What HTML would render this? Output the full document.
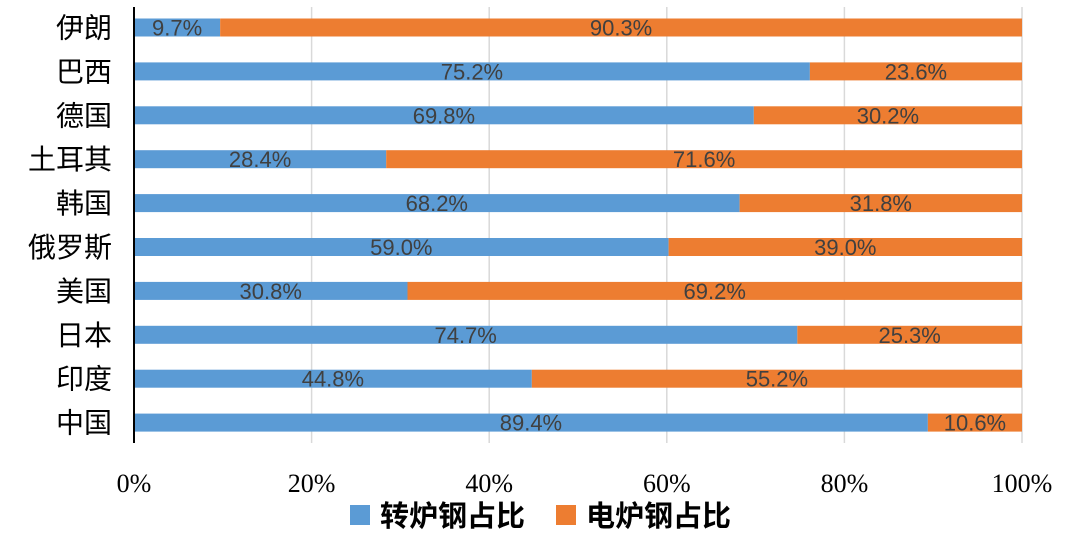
<!DOCTYPE html>
<html><head><meta charset="utf-8"><style>
html,body{margin:0;padding:0;background:#fff;}
svg{display:block;}
</style></head><body>
<svg id="chart" width="1080" height="543" xmlns="http://www.w3.org/2000/svg"></svg>
<script>
const categories = ["伊朗","巴西","德国","土耳其","韩国","俄罗斯","美国","日本","印度","中国"];
const bofValues = [9.7,75.2,69.8,28.4,68.2,59.0,30.8,74.7,44.8,89.4];
const eafValues = [90.3,23.6,30.2,71.6,31.8,39.0,69.2,25.3,55.2,10.6];
const xTicks = [0,20,40,60,80,100];
const seriesNames = ["转炉钢占比","电炉钢占比"];
const colors = ["#5B9BD5","#ED7D31"];

const svg = document.getElementById('chart');
const NS = "http://www.w3.org/2000/svg";
const x0 = 134, x1 = 1022, yTop = 7, yBot = 443;
const rowStart = 27.5, rowStep = 43.9, barH = 18;
function xScale(p){ return x0 + (x1 - x0) * p / 100; }
function yScale(i){ return rowStart + i * rowStep; }
function mk(tag, attrs){ const e = document.createElementNS(NS, tag); for (const k in attrs) e.setAttribute(k, attrs[k]); svg.appendChild(e); return e; }

xTicks.forEach((t) => {
  if (t > 0) {
    const g = mk('line', {x1: xScale(t), x2: xScale(t), y1: yTop, y2: yBot, stroke: '#d9d9d9', 'stroke-width': 1.5});
    
    
  }
  const tl = mk('text', {x: xScale(t), y: 492, 'text-anchor': 'middle', 'font-family': '"Liberation Serif", serif', 'font-size': 26, fill: '#000'});
  tl.textContent = t + '%';
  
  
});

categories.forEach((c, i) => {
  const total = bofValues[i] + eafValues[i];
  const b = bofValues[i] / total * 100;
  const yc = yScale(i);
  const r1 = mk('rect', {x: xScale(0), y: yc - barH/2, width: xScale(b) - xScale(0), height: barH, fill: colors[0]});
  
  
  const r2 = mk('rect', {x: xScale(b), y: yc - barH/2, width: xScale(100) - xScale(b), height: barH, fill: colors[1]});
  
  
  const l1 = mk('text', {x: (xScale(0) + xScale(b)) / 2, y: yc + 8, 'text-anchor': 'middle', 'font-family': '"Liberation Sans", sans-serif', 'font-size': 22, fill: '#404040'});
  l1.textContent = bofValues[i].toFixed(1) + '%';
  
  
  const l2 = mk('text', {x: (xScale(b) + xScale(100)) / 2, y: yc + 8, 'text-anchor': 'middle', 'font-family': '"Liberation Sans", sans-serif', 'font-size': 22, fill: '#404040'});
  l2.textContent = eafValues[i].toFixed(1) + '%';
  
  
  const cl = mk('text', {x: 112, y: yc + 10, 'text-anchor': 'end', 'font-family': '"Liberation Sans", "Noto Sans CJK SC", sans-serif', 'font-size': 28, fill: '#000'});
  cl.textContent = c;
  
  
});

const ax = mk('line', {x1: x0, x2: x0, y1: yTop, y2: yBot, stroke: '#000', 'stroke-width': 2});



const legX = [350, 556];
seriesNames.forEach((n, i) => {
  const sq = mk('rect', {x: legX[i], y: 505, width: 20, height: 20, fill: colors[i]});
  
  
  const t = mk('text', {x: legX[i] + 30, y: 526, 'font-family': '"Liberation Sans", "Noto Sans CJK SC", sans-serif', 'font-size': 29, 'font-weight': 'bold', fill: '#000'});
  t.textContent = n;
  
  
});
</script>
</body></html>
